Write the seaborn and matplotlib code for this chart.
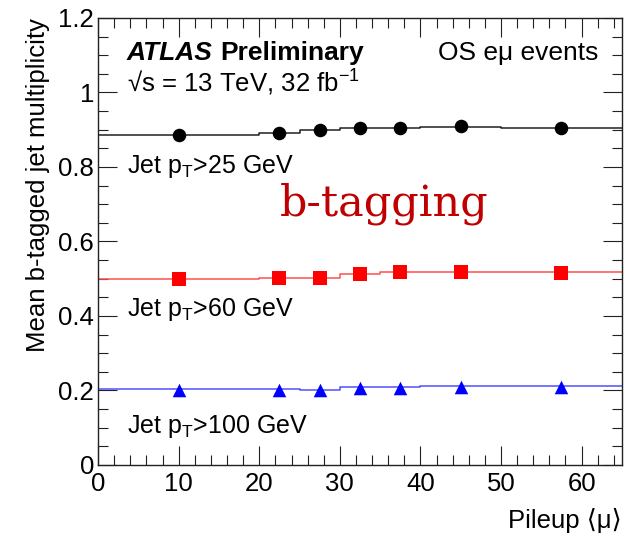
import numpy as np
import pandas as pd
import matplotlib
matplotlib.use("Agg")
import matplotlib.pyplot as plt
from matplotlib.ticker import MultipleLocator
import seaborn as sns

# ---- data ----
mu_centers = [10, 22.5, 27.5, 32.5, 37.5, 45, 57.5]
bin_edges = [0, 20, 25, 30, 35, 40, 50, 65]
pt25_data = [0.886, 0.892, 0.898, 0.904, 0.904, 0.909, 0.904]
pt60_data = [0.498, 0.501, 0.501, 0.512, 0.517, 0.518, 0.516]
pt100_data = [0.202, 0.202, 0.200, 0.206, 0.206, 0.209, 0.208]
pt25_pred = [0.887, 0.892, 0.898, 0.905, 0.905, 0.908, 0.905]
pt60_pred = [0.498, 0.501, 0.501, 0.512, 0.518, 0.519, 0.517]
pt100_pred = [0.204, 0.204, 0.201, 0.208, 0.208, 0.211, 0.211]
series_labels = ["Jet p$_{\\mathregular{T}}$>25 GeV", "Jet p$_{\\mathregular{T}}$>60 GeV", "Jet p$_{\\mathregular{T}}$>100 GeV"]

sns.set_theme(style="ticks")
plt.rcParams['font.family'] = ['Liberation Sans', 'DejaVu Sans']
plt.rcParams['mathtext.fontset'] = 'custom'
plt.rcParams['mathtext.rm'] = 'Liberation Sans'
plt.rcParams['mathtext.it'] = 'Liberation Sans:italic'
plt.rcParams['text.color'] = 'black'
plt.rcParams['axes.labelcolor'] = 'black'
plt.rcParams['xtick.labelcolor'] = 'black'
plt.rcParams['ytick.labelcolor'] = 'black'

fig = plt.figure(figsize=(6.25, 5.36), dpi=100)
ax = fig.add_axes([0.157, 0.1325, 0.838, 0.834])

styles = [
    (pt25_data, pt25_pred, "black", "#202020", "o"),
    (pt60_data, pt60_pred, "#ff0000", "#ff5050", "s"),
    (pt100_data, pt100_pred, "#0000ff", "#5050ff", "^"),
]
for data, pred, mcol, lcol, mk in styles:
    step_df = pd.DataFrame({"mu": bin_edges, "val": list(pred) + [pred[-1]]})
    sns.lineplot(data=step_df, x="mu", y="val", ax=ax, color=lcol, lw=1.1,
                 drawstyle="steps-post", estimator=None, sort=False, legend=False)
    pt_df = pd.DataFrame({"mu": mu_centers, "val": data})
    sns.scatterplot(data=pt_df, x="mu", y="val", ax=ax, color=mcol, marker=mk,
                    s=95, linewidth=0, legend=False, zorder=5)

ax.set_xlim(0, 65)
ax.set_ylim(0, 1.2)
ax.xaxis.set_major_locator(MultipleLocator(10))
ax.xaxis.set_minor_locator(MultipleLocator(2))
ax.yaxis.set_major_locator(MultipleLocator(0.2))
ax.yaxis.set_minor_locator(MultipleLocator(0.05))
ax.set_yticks([0, 0.2, 0.4, 0.6, 0.8, 1.0, 1.2])
ax.set_yticklabels(["0", "0.2", "0.4", "0.6", "0.8", "1", "1.2"])
ax.tick_params(which="both", direction="in", top=True, right=True, labelsize=18.5, width=0.8, color="#222222")
ax.tick_params(which="major", length=14)
ax.tick_params(which="minor", length=7)
ax.tick_params(axis="x", pad=5)
ax.tick_params(axis="y", pad=3)
for s in ax.spines.values():
    s.set_linewidth(1.0)
    s.set_color("#222222")

ax.set_xlabel("Pileup ⟨μ⟩", fontsize=18.5, loc="right", labelpad=9)
ax.set_ylabel("Mean b-tagged jet multiplicity", fontsize=18.5, loc="top", labelpad=6)

ax.text(0.055, 0.907, "ATLAS", transform=ax.transAxes, fontsize=19, fontweight="bold", style="italic")
ax.text(0.233, 0.907, "Preliminary", transform=ax.transAxes, fontsize=19, fontweight="bold")
ax.text(0.648, 0.907, "OS eμ events", transform=ax.transAxes, fontsize=19)
ax.text(0.055, 0.835, "√s = 13 TeV, 32 fb$^{\\mathregular{-1}}$", transform=ax.transAxes, fontsize=18.5)
ax.text(0.546, 0.585, "b-tagging", transform=ax.transAxes, fontsize=31, color="#c00000",
        family="DejaVu Serif", ha="center", va="center")

ax.text(0.055, 0.668, series_labels[0], transform=ax.transAxes, fontsize=18, va="center")
ax.text(0.055, 0.348, series_labels[1], transform=ax.transAxes, fontsize=18, va="center")
ax.text(0.055, 0.085, series_labels[2], transform=ax.transAxes, fontsize=18, va="center")

fig.savefig("out.png", dpi=100)
